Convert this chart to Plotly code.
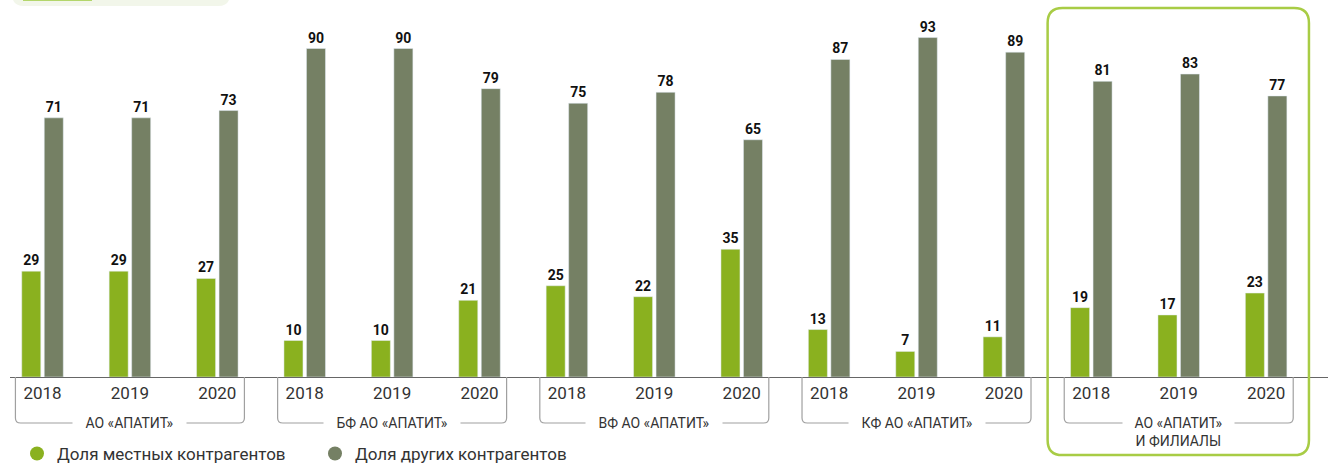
import plotly.graph_objects as go

groups = ["АО «АПАТИТ»", "БФ АО «АПАТИТ»", "ВФ АО «АПАТИТ»", "КФ АО «АПАТИТ»", "АО «АПАТИТ»<br>И ФИЛИАЛЫ"]
years = ["2018", "2019", "2020"]
local_share = [29, 29, 27, 10, 10, 21, 25, 22, 35, 13, 7, 11, 19, 17, 23]
other_share = [71, 71, 73, 90, 90, 79, 75, 78, 65, 87, 93, 89, 81, 83, 77]
legend_names = ["Доля местных контрагентов", "Доля других контрагентов"]

GREEN = "#8ab11f"
GRAY = "#758064"
FONT = "Roboto"

n = len(local_share)
xs = list(range(n))
tick_text = [years[i % 3] for i in range(n)]

fig = go.Figure()
fig.add_trace(go.Bar(x=xs, y=local_share, marker_color=GREEN, showlegend=False,
                     text=local_share, textposition="outside", cliponaxis=False,
                     textfont=dict(family=FONT, size=14, color="#111", weight="bold")))
fig.add_trace(go.Bar(x=xs, y=other_share, marker_color=GRAY, showlegend=False,
                     text=other_share, textposition="outside", cliponaxis=False,
                     textfont=dict(family=FONT, size=14, color="#111", weight="bold")))
for name, col in zip(legend_names, [GREEN, GRAY]):
    fig.add_trace(go.Scatter(x=[None], y=[None], mode="markers", name=name,
                             marker=dict(symbol="circle", size=14, color=col)))

shapes = []
ybot = -0.126
r_x, r_y = 0.06, 0.014
for g in range(len(groups)):
    x0 = g * 3 - 0.31
    x1 = g * 3 + 2 + 0.31
    path = (f"M {x0},0 L {x0},{ybot + r_y} Q {x0},{ybot} {x0 + r_x},{ybot} "
            f"L {x1 - r_x},{ybot} Q {x1},{ybot} {x1},{ybot + r_y} L {x1},0")
    shapes.append(dict(type="path", path=path, xref="x", yref="paper",
                       line=dict(color="#a0a0a0", width=1.2), layer="above"))

# highlight box around last group
bx0, bx1 = 11.5, 14.49
by0, by1 = -0.214, 1.011
rx, ry = 0.17, 0.041
box = (f"M {bx0 + rx},{by1} L {bx1 - rx},{by1} Q {bx1},{by1} {bx1},{by1 - ry} "
       f"L {bx1},{by0 + ry} Q {bx1},{by0} {bx1 - rx},{by0} L {bx0 + rx},{by0} "
       f"Q {bx0},{by0} {bx0},{by0 + ry} L {bx0},{by1 - ry} Q {bx0},{by1} {bx0 + rx},{by1} Z")
shapes.append(dict(type="path", path=box, xref="x", yref="paper",
                   line=dict(color="#a8cc45", width=2.5), layer="above"))

# top-left decorative tab remnants
tx0, tx1 = (12 - 10) / 1318, (230 - 10) / 1318
ty0, ty1 = (377 - 6) / 365, (377 + 30) / 365
trx, tryy = 12 / 1318, 12 / 365
tab = (f"M {tx0},{ty1} L {tx0},{ty0 + tryy} Q {tx0},{ty0} {tx0 + trx},{ty0} "
       f"L {tx1 - trx},{ty0} Q {tx1},{ty0} {tx1},{ty0 + tryy} L {tx1},{ty1} Z")
shapes.append(dict(type="path", path=tab, xref="paper", yref="paper",
                   fillcolor="#f2f6ea", line=dict(width=0), layer="below"))
shapes.append(dict(type="rect", xref="paper", yref="paper",
                   x0=(23 - 10) / 1318, x1=(92 - 10) / 1318,
                   y0=(377 - 1) / 365, y1=(377 + 30) / 365,
                   fillcolor="#b3d66b", line=dict(width=0), layer="below"))

annotations = []
for g, label in enumerate(groups):
    two = "<br>" in label
    txt = "&nbsp;&nbsp;&nbsp;" + label.replace("<br>", "&nbsp;&nbsp;&nbsp;<br>&nbsp;&nbsp;&nbsp;") + "&nbsp;&nbsp;&nbsp;"
    annotations.append(dict(x=g * 3 + 1, y=ybot, xref="x", yref="paper",
                            text=txt, showarrow=False, yanchor="top" if two else "middle",
                            yshift=10 if two else 0,
                            font=dict(family=FONT, size=14, color="#333"),
                            bgcolor="white", borderpad=1 if two else 2,
                            xanchor="center"))

fig.update_layout(
    width=1328, height=463,
    margin=dict(l=10, r=0, t=12, b=86, autoexpand=False),
    plot_bgcolor="white", paper_bgcolor="white",
    bargap=0.485, bargroupgap=0.155, barmode="group",
    xaxis=dict(range=[-0.372, 14.708], tickvals=xs, ticktext=tick_text,
               showgrid=False, zeroline=False, showline=True, linecolor="#666", linewidth=1.3,
               ticks="", tickfont=dict(family=FONT, size=17, color="#333")),
    yaxis=dict(range=[0, 100], visible=False),
    showlegend=True,
    legend=dict(orientation="h", x=(17 - 10) / 1318, xanchor="left", y=-0.211, yanchor="middle",
                font=dict(family=FONT, size=17, color="#333"), entrywidth=253,
                itemclick=False, bgcolor="rgba(0,0,0,0)"),
    shapes=shapes, annotations=annotations,
)
fig.write_html("out.html", config={"displayModeBar": False},
               post_script="document.body.style.margin='0';document.body.style.overflow='hidden';")
